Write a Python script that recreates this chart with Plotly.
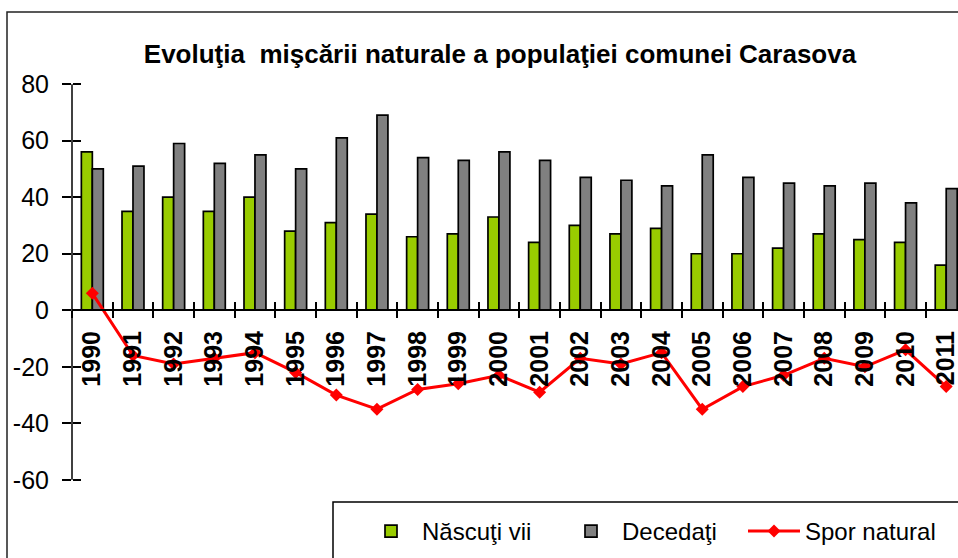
import plotly.graph_objects as go

# -- Data ---------------------------------------------------------------------
YEARS        = [str(y) for y in range(1990, 2012)]
NASCUTI_VII  = [56, 35, 40, 35, 40, 28, 31, 34, 26, 27, 33,
                24, 30, 27, 29, 20, 20, 22, 27, 25, 24, 16]
DECEDATI     = [50, 51, 59, 52, 55, 50, 61, 69, 54, 53, 56,
                53, 47, 46, 44, 55, 47, 45, 44, 45, 38, 43]
SPOR_NATURAL = [6, -16, -19, -17, -15, -22, -30, -35, -28, -26, -23,
                -29, -17, -19, -15, -35, -27, -23, -17, -20, -14, -27]
Y_TICKS      = [-60, -40, -20, 0, 20, 40, 60, 80]
Y_TICKTEXT   = ["-60", "-40", "-20", "0", "20", "40", "60", "80"]

TITLE = "Evoluţia  mişcării naturale a populaţiei comunei Carasova"

# -- Style --------------------------------------------------------------------
GREEN = "#99cc00"
GREY  = "#808080"
RED   = "#ff0000"
FONT  = "Liberation Sans, Arial, sans-serif"

W, H = 958, 558
ML, MR, MT, MB = 72, 0, 83, 77
PW, PH = W - ML - MR, H - MT - MB
# a hair wider than -60..80 so the inner tick marks at the ends are not clipped
Y_RANGE = [-60.4, 80.4]
X_RANGE = [-0.5, 21.29]
ZERO_POS = (0 - Y_RANGE[0]) / (Y_RANGE[1] - Y_RANGE[0])


def px_x(x):   # pixel -> paper x
    return (x - ML) / PW


def px_y(y):   # pixel -> paper y
    return (H - MB - y) / PH


fig = go.Figure()

fig.add_trace(go.Bar(x=YEARS, y=NASCUTI_VII, name="Născuţi vii", legend="legend",
    marker=dict(color=GREEN, line=dict(color="black", width=1.7))))
fig.add_trace(go.Bar(x=YEARS, y=DECEDATI, name="Decedaţi", legend="legend2",
    marker=dict(color=GREY, line=dict(color="black", width=1.7))))
fig.add_trace(go.Scatter(x=YEARS, y=SPOR_NATURAL, name="Spor natural", legend="legend3",
    mode="lines+markers", line=dict(color=RED, width=3),
    marker=dict(symbol="diamond", size=10, color=RED)))

# transparent copy on the overlay axes, which draw the inner half of the crossing ticks
fig.add_trace(go.Scatter(x=YEARS, y=SPOR_NATURAL, xaxis="x2", yaxis="y2",
    mode="markers", marker=dict(opacity=0), showlegend=False, hoverinfo="skip"))

axis_common = dict(showgrid=False, zeroline=False, linecolor="black", linewidth=1.5,
                   tickcolor="black", tickwidth=1.5)
inner_ticks = dict(showgrid=False, zeroline=False, showline=False, ticks="inside",
                   ticklen=8, tickcolor="black", tickwidth=1.5, showticklabels=False)


def legend_at(left_px):
    return dict(orientation="h", x=px_x(left_px), y=px_y(509), xanchor="left",
                yanchor="top", bgcolor="rgba(0,0,0,0)", borderwidth=0,
                font=dict(size=24, family=FONT, color="black"), itemwidth=52)


fig.update_layout(
    width=W, height=H,
    paper_bgcolor="white", plot_bgcolor="white",
    font=dict(family=FONT, color="black"),
    margin=dict(l=ML, r=MR, t=MT, b=MB),
    barmode="group", bargap=0.46, bargroupgap=0,
    title=dict(text=TITLE, x=500 / W, xanchor="center", xref="container",
               y=1 - 54 / H, yanchor="middle", yref="container",
               font=dict(size=26, family=FONT, color="black", weight="bold")),
    xaxis=dict(type="category", categoryorder="array", categoryarray=YEARS,
               range=X_RANGE, anchor="free", position=ZERO_POS, showline=True,
               ticks="outside", ticklen=7, tickson="boundaries", tickangle=-90,
               ticklabelstandoff=10,
               tickfont=dict(size=25, family=FONT, color="black", weight="bold"),
               **axis_common),
    xaxis2=dict(type="category", categoryorder="array", categoryarray=YEARS,
                range=X_RANGE, overlaying="x", anchor="free", position=ZERO_POS,
                tickson="boundaries", **inner_ticks),
    yaxis=dict(range=Y_RANGE, tickvals=Y_TICKS, ticktext=Y_TICKTEXT, showline=False,
               ticks="outside", ticklen=9, ticklabelstandoff=8,
               tickfont=dict(size=25, family=FONT, color="black"),
               **axis_common),
    yaxis2=dict(range=Y_RANGE, tickvals=Y_TICKS, overlaying="y", anchor="free",
                position=0, **inner_ticks),
    legend=legend_at(360),
    legend2=legend_at(560),
    legend3=legend_at(743),
    showlegend=True,
)

# y axis line drawn between the -60 and 80 ticks only
fig.add_shape(type="line", xref="paper", yref="y", x0=0, x1=0,
              y0=Y_TICKS[0], y1=Y_TICKS[-1], line=dict(color="black", width=1.5))

# outer chart frame and legend frame (both run off the cropped edge)
fig.add_shape(type="rect", xref="paper", yref="paper",
              x0=px_x(7), y0=px_y(12), x1=px_x(W + 40), y1=px_y(H + 40),
              line=dict(color="#222222", width=1.5), layer="below")
fig.add_shape(type="rect", xref="paper", yref="paper",
              x0=px_x(333), y0=px_y(502), x1=px_x(W + 40), y1=px_y(H + 40),
              line=dict(color="black", width=1.5), fillcolor="white", layer="below")

fig.write_html("out.html", config={"displayModeBar": False},
               post_script="document.body.style.margin = '0';")
